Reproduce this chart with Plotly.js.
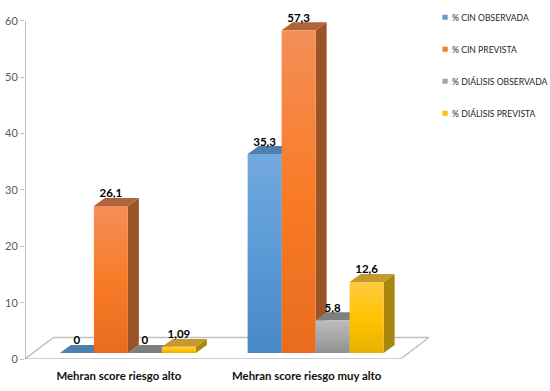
<!DOCTYPE html>
<html><head><meta charset="utf-8">
<script src="https://cdn.plot.ly/plotly-3.0.1.min.js"></script>
<style>html,body{margin:0;padding:0;background:#fff}#c{width:550px;height:391px}</style>
</head><body><div id="c"></div>
<script>
const categories = ['Mehran score riesgo alto', 'Mehran score riesgo muy alto'];
const seriesNames = ['% CIN OBSERVADA', '% CIN PREVISTA', '% DIÁLISIS OBSERVADA', '% DIÁLISIS PREVISTA'];
const cinObservada = [0, 35.3];
const cinPrevista = [26.1, 57.3];
const dialisisObservada = [0, 5.8];
const dialisisPrevista = [1.09, 12.6];
const labelsCinObservada = ['0', '35,3'];
const labelsCinPrevista = ['26,1', '57,3'];
const labelsDialisisObservada = ['0', '5,8'];
const labelsDialisisPrevista = ['1,09', '12,6'];
const yTicks = [0, 10, 20, 30, 40, 50, 60];

const values = [cinObservada, cinPrevista, dialisisObservada, dialisisPrevista];
const labels = [labelsCinObservada, labelsCinPrevista, labelsDialisisObservada, labelsDialisisPrevista];
const frontColors = ['#5b9bd5', '#f57c2c', '#a5a5a5', '#ffc000'];
const gradients = [
  ['#72a9de', '#5a9ad6', '#4788c6'],
  ['#f48f58', '#f97b28', '#e96c1e'],
  ['#bcbcbc', '#a8a8a8', '#8f8f8f'],
  ['#ffc942', '#ffc400', '#e8b000']
];
const topColors = ['#4f7fae', '#b0643a', '#7f7f7f', '#c49a30'];
const sideColors = ['#3f6f9c', '#9c5426', '#6e6e6e', '#a8870f'];

// geometry of the pseudo 3-D projection, in axis units
const pxX = 187.75, pxY = 339 / 60;
const barW = 34 / pxX, shift = 9 / pxX;
const base = 6 / pxY;
const depthX = 11 / pxX, depthY = 8 / pxY;
const floorX = 28.5 / pxX, floorY = 21.5 / pxY;
const xMax = -0.5 + 412 / pxX;
const labelGap = 11.5 / pxY;
const yMax = 63;

const traces = [];
// value axis line and floor
traces.push({
  type: 'scatter', mode: 'lines', xaxis: 'x', yaxis: 'y', showlegend: false, hoverinfo: 'skip', cliponaxis: false,
  x: [-0.5, -0.5], y: [0, 60], line: {color: '#bfbfbf', width: 2}
});
traces.push({
  type: 'scatter', mode: 'lines', xaxis: 'x', yaxis: 'y', showlegend: false, hoverinfo: 'skip', cliponaxis: false,
  x: [-0.5, 1.5, 1.5 + floorX, -0.5 + floorX, -0.5, null, -0.5, -0.5, null, 0.5, 0.5, null, 1.5, 1.5],
  y: [0, 0, floorY, floorY, 0, null, 0, -0.55, null, 0, -0.55, null, 0, -0.55],
  line: {color: '#bfbfbf', width: 1.4}
});
// side and top faces, drawn left to right
values.forEach((vals, s) => {
  const left = i => i - 2 * barW + shift + s * barW;
  const sx = [], sy = [], tx = [], ty = [];
  vals.forEach((v, i) => {
    const r = left(i) + barW, t = base + v;
    if (v > 0) {
      sx.push(r, r + depthX, r + depthX, r, r, null);
      sy.push(base, base + depthY, t + depthY, t, base, null);
    }
    tx.push(left(i), r, r + depthX, left(i) + depthX, left(i), null);
    ty.push(t, t, t + depthY, t + depthY, t, null);
  });
  traces.push({type: 'scatter', mode: 'lines', x: sx, y: sy, fill: 'toself', fillcolor: sideColors[s],
    line: {width: 0}, xaxis: 'x', yaxis: 'y', showlegend: false, hoverinfo: 'skip'});
  traces.push({type: 'scatter', mode: 'lines', x: tx, y: ty, fill: 'toself', fillcolor: topColors[s],
    line: {width: 0}, xaxis: 'x', yaxis: 'y', showlegend: false, hoverinfo: 'skip'});
});
// front faces
values.forEach((vals, s) => {
  traces.push({
    type: 'bar', name: seriesNames[s], legendgroup: 'g' + s,
    x: [0, 1], y: vals, base: base, width: barW, offset: -2 * barW + shift + s * barW,
    marker: {color: frontColors[s], line: {width: 0}},
    xaxis: 'x2', yaxis: 'y2', hoverinfo: 'skip'
  });
});
// value labels
values.forEach((vals, s) => {
  traces.push({
    type: 'scatter', mode: 'text', showlegend: false, hoverinfo: 'skip', cliponaxis: false,
    x: [0, 1].map(i => i - 2 * barW + shift + s * barW + barW / 2),
    y: vals.map(v => base + v + labelGap),
    text: labels[s], textposition: 'middle center',
    textfont: {family: 'Lato, sans-serif', size: 11.5, color: '#000', weight: 700},
    xaxis: 'x2', yaxis: 'y2'
  });
});

const layout = {
  width: 550, height: 391, paper_bgcolor: '#fff', plot_bgcolor: 'rgba(0,0,0,0)',
  margin: {l: 25, r: 113, t: 20.5 - (yMax - 60) * pxY, b: 31.5, autoexpand: false},
  barmode: 'overlay', showlegend: true, font: {family: 'Lato, sans-serif'},
  xaxis: {
    range: [-0.5, xMax], tickmode: 'array', tickvals: [0, 1], ticktext: categories,
    showgrid: false, zeroline: false, showline: false, ticks: '', ticklabelstandoff: 9,
    tickfont: {family: 'Lato, sans-serif', size: 11.4, color: '#111', weight: 700}
  },
  yaxis: {
    range: [0, yMax], tickmode: 'array', tickvals: yTicks, showgrid: false, zeroline: false,
    showline: false, ticks: 'outside', ticklen: 4, tickcolor: '#bfbfbf', tickwidth: 1,
    tickfont: {family: 'Lato, sans-serif', size: 11, color: '#595959'}
  },
  xaxis2: {range: [-0.5, xMax], overlaying: 'x', visible: false},
  yaxis2: {range: [0, yMax], overlaying: 'y', visible: false},
  legend: {
    xref: 'container', yref: 'container', x: 0.782, y: 0.993, xanchor: 'left', yanchor: 'top',
    traceorder: 'grouped', tracegroupgap: 13, bgcolor: 'rgba(0,0,0,0)', itemclick: false, itemdoubleclick: false,
    font: {family: 'Lato, sans-serif', size: 8.6, color: '#262626'}
  }
};

Plotly.newPlot('c', traces, layout, {displayModeBar: false, staticPlot: true}).then(gd => {
  const NS = 'http://www.w3.org/2000/svg';
  const svg = gd.querySelector('.main-svg');
  let defs = svg.querySelector('defs');
  gradients.forEach((stops, s) => {
    const g = document.createElementNS(NS, 'linearGradient');
    g.setAttribute('id', 'front' + s);
    g.setAttribute('x1', '0'); g.setAttribute('y1', '0'); g.setAttribute('x2', '0'); g.setAttribute('y2', '1');
    stops.forEach((c, k) => {
      const st = document.createElementNS(NS, 'stop');
      st.setAttribute('offset', k / (stops.length - 1));
      st.setAttribute('stop-color', c);
      g.appendChild(st);
    });
    defs.appendChild(g);
  });
  gd.querySelectorAll('.barlayer .trace.bars').forEach((tr, s) => {
    tr.querySelectorAll('path').forEach(p => { p.style.fill = 'url(#front' + s + ')'; });
  });
  gd.querySelectorAll('.legend .legendtext').forEach(t => t.setAttribute('x', '22'));
  gd.querySelectorAll('.legend .legendpoints path').forEach(p => {
    p.setAttribute('d', 'M2.6,2.6H-2.6V-2.6H2.6Z');
    p.setAttribute('transform', 'translate(15,0)');
  });
});
</script></body></html>
